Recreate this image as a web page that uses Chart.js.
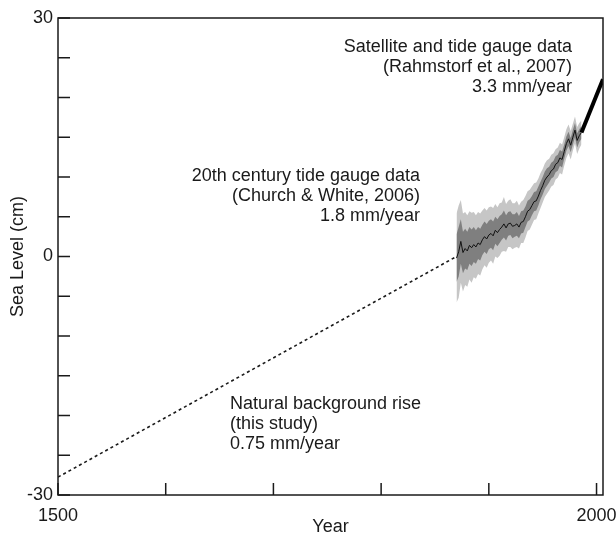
<!DOCTYPE html>
<html>
<head>
<meta charset="utf-8">
<script src="https://cdn.jsdelivr.net/npm/chart.js@4.4.1/dist/chart.umd.min.js"></script>
<style>
  html, body { margin: 0; padding: 0; background: #fff; }
  #wrap { width: 616px; height: 536px; }
</style>
</head>
<body>
<div id="wrap"><canvas id="myChart"></canvas></div>
<script>
// natural background rise (dashed)
const bgYears = [1500, 1870];
const bgLevel = [-27.75, 0];

// Church & White tide gauge record, read every 2 years
const cwYears = [1870, 1872, 1874, 1876, 1878, 1880, 1882, 1884, 1886, 1888,
  1890, 1892, 1894, 1896, 1898, 1900, 1902, 1904, 1906, 1908,
  1910, 1912, 1914, 1916, 1918, 1920, 1922, 1924, 1926, 1928,
  1930, 1932, 1934, 1936, 1938, 1940, 1942, 1944, 1946, 1948,
  1950, 1952, 1954, 1956, 1958, 1960, 1962, 1964, 1966, 1968,
  1970, 1972, 1974, 1976, 1978, 1980, 1982, 1984, 1986];
const cwLevel = [-0.2, 0.6, 1.9, 0.5, 1.0, 0.7, 1.4, 1.1, 1.5, 1.2,
  1.7, 1.5, 2.1, 2.5, 2.2, 2.7, 2.9, 2.6, 3.3, 3.0,
  3.4, 3.7, 4.1, 3.6, 4.1, 4.2, 3.8, 3.9, 4.1, 3.7,
  4.3, 4.4, 5.0, 5.7, 5.9, 6.4, 6.9, 7.0, 7.6, 8.3,
  8.9, 9.6, 10.0, 10.3, 10.8, 11.0, 11.6, 11.8, 12.4, 12.2,
  13.2, 14.2, 14.8, 14.0, 15.0, 15.9, 14.6, 15.2, 15.6];
// half widths of the light (outer) and dark (inner) uncertainty bands
const outerHalf = [5.6, 5.8, 5.2, 4.9, 4.6, 4.5, 4.3, 4.4, 4.1, 4.0,
  3.9, 3.9, 3.7, 3.6, 3.6, 3.5, 3.4, 3.5, 3.3, 3.2,
  3.3, 3.1, 3.4, 3.0, 2.9, 3.0, 2.9, 2.8, 2.9, 2.7,
  2.6, 2.7, 2.6, 2.5, 2.5, 2.4, 2.3, 2.3, 2.2, 2.2,
  2.1, 2.1, 2.1, 2.0, 2.0, 2.0, 1.9, 1.9, 1.9, 1.9,
  1.8, 1.8, 1.8, 1.8, 1.7, 1.7, 1.7, 1.6, 1.5];
const innerHalf = [3.0, 3.1, 2.8, 2.6, 2.5, 2.4, 2.3, 2.3, 2.2, 2.1,
  2.0, 2.0, 1.9, 1.9, 1.9, 1.8, 1.8, 1.8, 1.7, 1.7,
  1.7, 1.6, 1.7, 1.6, 1.5, 1.5, 1.5, 1.4, 1.5, 1.4,
  1.4, 1.4, 1.3, 1.3, 1.3, 1.2, 1.2, 1.2, 1.2, 1.1,
  1.1, 1.1, 1.1, 1.0, 1.0, 1.0, 1.0, 1.0, 1.0, 1.0,
  0.9, 0.9, 0.9, 0.9, 0.9, 0.9, 0.9, 0.8, 0.8];

// satellite + tide gauge trend
const satYears = [1986, 2006];
const satLevel = [15.6, 22.3];

// axes
const xLabels = [1500, 2000];
const yLabels = [-30, 0, 30];
const xTickMarks = [1500, 1600, 1700, 1800, 1900, 2000];
const yTickMarks = [-30, -25, -20, -15, -10, -5, 0, 5, 10, 15, 20, 25, 30];

const FONT = "'Liberation Sans', Arial, Helvetica, sans-serif";
const INK = "#1a1a1a";
const FS = 18;

const pts = (xs, ys) => xs.map((x, i) => ({ x: x, y: ys[i] }));
const band = (sign, half) => cwYears.map((x, i) => ({ x: x, y: cwLevel[i] + sign * half[i] }));

const notes = [
  { x: 572, y: 47, align: "right", lines: ["Satellite and tide gauge data", "(Rahmstorf et al., 2007)", "3.3 mm/year"] },
  { x: 420, y: 176, align: "right", lines: ["20th century tide gauge data", "(Church & White, 2006)", "1.8 mm/year"] },
  { x: 230, y: 404, align: "left", lines: ["Natural background rise", "(this study)", "0.75 mm/year"] },
];

// frame, inward ticks and the text notes
const framePlugin = {
  id: "frame",
  afterDraw(chart) {
    const { ctx, chartArea: a, scales: { x, y } } = chart;
    ctx.save();
    ctx.strokeStyle = INK;
    ctx.lineWidth = 1.5;
    ctx.strokeRect(a.left, a.top, a.right - a.left, a.bottom - a.top);
    ctx.beginPath();
    xTickMarks.forEach((v) => {
      const px = x.getPixelForValue(v);
      ctx.moveTo(px, a.bottom);
      ctx.lineTo(px, a.bottom - 12);
    });
    yTickMarks.forEach((v) => {
      const py = y.getPixelForValue(v);
      ctx.moveTo(a.left, py);
      ctx.lineTo(a.left + 12, py);
    });
    ctx.stroke();

    ctx.fillStyle = INK;
    ctx.font = FS + "px " + FONT;
    ctx.textBaseline = "middle";
    notes.forEach((n) => {
      ctx.textAlign = n.align;
      n.lines.forEach((t, i) => ctx.fillText(t, n.x, n.y + i * 20));
    });
    ctx.restore();
  },
};

const data = {
  datasets: [
    {
      label: "background",
      data: pts(bgYears, bgLevel),
      borderColor: INK,
      borderWidth: 1.6,
      borderDash: [3, 3],
      pointRadius: 0,
      order: 0,
    },
    {
      label: "Church & White",
      data: pts(cwYears, cwLevel),
      borderColor: "#111",
      borderWidth: 1,
      pointRadius: 0,
      order: 0,
    },
    {
      label: "satellite",
      data: pts(satYears, satLevel),
      borderColor: "#000",
      borderWidth: 4,
      pointRadius: 0,
      order: 0,
    },
    {
      label: "outer upper",
      data: band(1, outerHalf),
      borderWidth: 0,
      pointRadius: 0,
      fill: "+1",
      backgroundColor: "#c6c6c6",
      order: 3,
    },
    {
      label: "outer lower",
      data: band(-1, outerHalf),
      borderWidth: 0,
      pointRadius: 0,
      fill: false,
      order: 3,
    },
    {
      label: "inner upper",
      data: band(1, innerHalf),
      borderWidth: 0,
      pointRadius: 0,
      fill: "+1",
      backgroundColor: "#7f7f7f",
      order: 2,
    },
    {
      label: "inner lower",
      data: band(-1, innerHalf),
      borderWidth: 0,
      pointRadius: 0,
      fill: false,
      order: 2,
    },
  ],
};

const config = {
  type: "line",
  data: data,
  options: {
    responsive: true,
    maintainAspectRatio: false,
    animation: false,
    layout: { padding: { left: 0, right: 13, top: 18, bottom: 0 } },
    plugins: { legend: { display: false }, tooltip: { enabled: false } },
    scales: {
      x: {
        type: "linear",
        min: 1500,
        max: 2006,
        grid: { display: false, drawTicks: false },
        border: { display: false },
        afterBuildTicks: (s) => { s.ticks = xLabels.map((v) => ({ value: v })); },
        afterFit: (s) => { s.height = 41; s.paddingLeft = 0; s.paddingRight = 0; },
        ticks: {
          autoSkip: false, maxRotation: 0, padding: 10, color: INK,
          font: { size: FS, family: FONT },
          callback: (v) => String(v),
        },
        title: { display: true, text: "Year", color: INK, padding: { top: 0, bottom: 0 }, font: { size: FS, family: FONT, lineHeight: 1 } },
      },
      y: {
        min: -30,
        max: 30,
        grid: { display: false, drawTicks: false },
        border: { display: false },
        afterBuildTicks: (s) => { s.ticks = yLabels.map((v) => ({ value: v })); },
        afterFit: (s) => { s.width = 58; s.paddingTop = 0; s.paddingBottom = 0; },
        ticks: { autoSkip: false, padding: 5, color: INK, font: { size: FS, family: FONT }, callback: (v) => String(v) },
        title: { display: true, text: "Sea Level (cm)", color: INK, padding: { top: 7, bottom: 0 }, font: { size: FS, family: FONT } },
      },
    },
  },
  plugins: [framePlugin],
};

const myChart = new Chart(document.getElementById("myChart"), config);
</script>
</body>
</html>
